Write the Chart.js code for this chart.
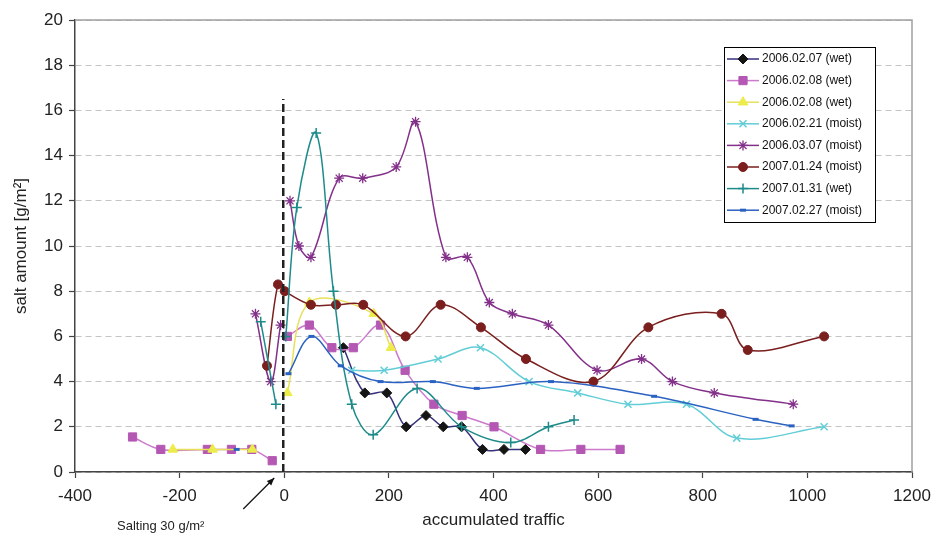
<!DOCTYPE html>
<html>
<head>
<meta charset="utf-8">
<title>Salt amount vs accumulated traffic</title>
<script src="https://cdn.jsdelivr.net/npm/chart.js@4/dist/chart.umd.min.js"></script>
<style>
  html, body { margin: 0; padding: 0; background: #fff; }
  canvas { display: block; }
</style>
</head>
<body>
<canvas id="saltChart" width="933" height="536"></canvas>
<script>
// Salt amount on the road vs accumulated traffic after salting
// values; null = break in the line at the salting moment

const seriesLabels = [
    '2006.02.07 (wet)', '2006.02.08 (wet)', '2006.02.08 (wet)', '2006.02.21 (moist)',
    '2006.03.07 (moist)', '2007.01.24 (moist)', '2007.01.31 (wet)', '2007.02.27 (moist)'
];

const traffic_060207 = [113, 154, 196, 233, 271, 304, 339, 379, 420, 461];
const salt_060207    = [5.5, 3.5, 3.5, 2.0, 2.5, 2.0, 2.0, 1.0, 1.0, 1.0];

const traffic_060208a = [-290, -236, -147, -101, -62, -23, 0, 6, 48, 91, 132, 184, 231, 286, 340, 401, 490, 567, 642];
const salt_060208a    = [1.55, 1.0, 1.0, 1.0, 1.0, 0.5, null, 6.0, 6.5, 5.5, 5.5, 6.5, 4.5, 3.0, 2.5, 2.0, 1.0, 1.0, 1.0];

const traffic_060208b = [-213, -137, -61, 0, 6, 48, 171, 204];
const salt_060208b    = [1.0, 1.0, 1.0, null, 3.5, 7.5, 7.0, 5.5];

const traffic_060221 = [129, 191, 294, 375, 468, 561, 657, 769, 865, 1032];
const salt_060221    = [4.5, 4.5, 5.0, 5.5, 4.0, 3.5, 3.0, 3.0, 1.5, 2.0];

const traffic_060307 = [-55, -26, -7, 0, 11, 28, 51, 105, 150, 214, 251, 309, 350, 392, 436, 505, 598, 683, 742, 822, 973];
const salt_060307    = [7.0, 4.0, 6.5, null, 12.0, 10.0, 9.5, 13.0, 13.0, 13.5, 15.5, 9.5, 9.5, 7.5, 7.0, 6.5, 4.5, 5.0, 4.0, 3.5, 3.0];

const traffic_070124 = [-33, -12, 1, 51, 99, 151, 232, 299, 376, 462, 591, 696, 836, 886, 1032];
const salt_070124    = [4.7, 8.3, 8.0, 7.4, 7.4, 7.4, 6.0, 7.4, 6.4, 5.0, 4.0, 6.4, 7.0, 5.4, 6.0];

const traffic_070131 = [-45, -16, 0, 3, 24, 61, 94, 129, 170, 254, 339, 433, 505, 554];
const salt_070131    = [6.65, 3.0, null, 6.0, 11.7, 15.0, 8.0, 3.0, 1.65, 3.7, 2.0, 1.3, 2.0, 2.3];

const traffic_070227 = [-91, 0, 8, 52, 108, 184, 284, 368, 510, 707, 901, 970];
const salt_070227    = [1.0, null, 4.35, 6.0, 4.7, 4.0, 4.0, 3.7, 4.0, 3.35, 2.33, 2.04];

const xTicks = [-400, -200, 0, 200, 400, 600, 800, 1000, 1200];
const yTicks = [0, 2, 4, 6, 8, 10, 12, 14, 16, 18, 20];

const saltingTraffic = 0;     // moment of salting
const saltingLineTop = 16.5;  // height of the dashed marker line

const trafficSets = [traffic_060207, traffic_060208a, traffic_060208b, traffic_060221,
                     traffic_060307, traffic_070124, traffic_070131, traffic_070227];
const saltSets = [salt_060207, salt_060208a, salt_060208b, salt_060221,
                  salt_060307, salt_070124, salt_070131, salt_070227];

// look of each series (Excel-like markers)
const looks = [
    { line: '#35307a', marker: '#151515', shape: 'rectRot',  r: 5,   bw: 1 },
    { line: '#cc7acc', marker: '#b458b4', shape: 'rect',     r: 5.8, bw: 1 },
    { line: '#e8e05a', marker: '#ecec4a', shape: 'triangle', r: 5.5, bw: 1 },
    { line: '#62cdd6', marker: '#62cdd6', shape: 'crossRot', r: 5,   bw: 1.5 },
    { line: '#83308a', marker: '#83308a', shape: 'star',     r: 5,   bw: 1.3 },
    { line: '#7a1e1e', marker: '#7a1e1e', shape: 'circle',   r: 4.5, bw: 1 },
    { line: '#1e8b8b', marker: '#1e8b8b', shape: 'cross',    r: 5,   bw: 1.5 },
    { line: '#2a62c2', marker: '#2a62c2', shape: 'line',     r: 3,   bw: 3 }
];

const FONT = "'Liberation Sans', Arial, sans-serif";

const datasets = seriesLabels.map((label, i) => ({
    label: label,
    data: trafficSets[i].map((x, k) => ({ x: x, y: saltSets[i][k] })),
    borderColor: looks[i].line,
    backgroundColor: looks[i].marker,
    borderWidth: 1.5,
    tension: 0.35,
    spanGaps: false,
    pointStyle: looks[i].shape,
    pointRadius: looks[i].r,
    pointBorderWidth: looks[i].bw,
    pointBackgroundColor: looks[i].marker,
    pointBorderColor: looks[i].marker,
    order: seriesLabels.length - i   // later series on top, like the original
}));

// gray frame on top/right of plot area
const plotFrame = {
    id: 'plotFrame',
    beforeDatasetsDraw(chart) {
        const { ctx, chartArea: a } = chart;
        ctx.save();
        ctx.strokeStyle = '#a0a0a0';
        ctx.lineWidth = 1.5;
        ctx.beginPath();
        ctx.moveTo(a.left, a.top);
        ctx.lineTo(a.right, a.top);
        ctx.lineTo(a.right, a.bottom);
        ctx.stroke();
        ctx.restore();
    }
};

// dashed salting line, arrow and note
const saltingMark = {
    id: 'saltingMark',
    afterDatasetsDraw(chart) {
        const { ctx } = chart;
        const xs = chart.scales.x, ys = chart.scales.y;
        const px = xs.getPixelForValue(saltingTraffic) - 1;
        ctx.save();
        ctx.strokeStyle = '#222';
        ctx.lineWidth = 2.5;
        ctx.setLineDash([8, 4]);
        ctx.beginPath();
        ctx.moveTo(px, ys.getPixelForValue(0));
        ctx.lineTo(px, ys.getPixelForValue(saltingLineTop));
        ctx.stroke();
        ctx.setLineDash([]);

        // arrow pointing at the salting moment
        const base = ys.getPixelForValue(0);
        const tipX = px - 9, tipY = base + 6;
        const tailX = px - 40, tailY = base + 37;
        ctx.lineWidth = 1.3;
        ctx.strokeStyle = '#111';
        ctx.beginPath();
        ctx.moveTo(tailX, tailY);
        ctx.lineTo(tipX, tipY);
        ctx.stroke();
        const ang = Math.atan2(tipY - tailY, tipX - tailX);
        ctx.fillStyle = '#111';
        ctx.beginPath();
        ctx.moveTo(tipX, tipY);
        ctx.lineTo(tipX - 8 * Math.cos(ang - 0.4), tipY - 8 * Math.sin(ang - 0.4));
        ctx.lineTo(tipX - 8 * Math.cos(ang + 0.4), tipY - 8 * Math.sin(ang + 0.4));
        ctx.closePath();
        ctx.fill();

        ctx.font = '13px ' + FONT;
        ctx.fillStyle = '#222';
        ctx.textBaseline = 'alphabetic';
        ctx.fillText('Salting 30 g/m²', 117, base + 58);
        ctx.restore();
    }
};

// boxed legend inside the plot, like the original
const boxLegend = {
    id: 'boxLegend',
    afterDraw(chart) {
        const { ctx } = chart;
        const left = 724, top = 47, w = 151, h = 175, rowH = 21.6;
        ctx.save();
        ctx.fillStyle = '#fff';
        ctx.fillRect(left, top, w, h);
        ctx.strokeStyle = '#000';
        ctx.lineWidth = 1;
        ctx.strokeRect(left + 0.5, top + 0.5, w, h);
        ctx.font = '12px ' + FONT;
        ctx.textBaseline = 'middle';
        chart.data.datasets.forEach((ds, i) => {
            const y = top + 12 + i * rowH;
            ctx.strokeStyle = ds.borderColor;
            ctx.lineWidth = 1.5;
            ctx.beginPath();
            ctx.moveTo(left + 3, y);
            ctx.lineTo(left + 35, y);
            ctx.stroke();
            ctx.fillStyle = ds.pointBackgroundColor;
            ctx.strokeStyle = ds.pointBorderColor;
            ctx.lineWidth = ds.pointBorderWidth;
            Chart.helpers.drawPoint(ctx, {
                pointStyle: ds.pointStyle,
                radius: ds.pointRadius,
                borderWidth: ds.pointBorderWidth,
                rotation: 0
            }, left + 19, y);
            ctx.fillStyle = '#111';
            ctx.fillText(ds.label, left + 38, y);
        });
        ctx.restore();
    }
};

new Chart(document.getElementById('saltChart'), {
    type: 'line',
    data: { datasets: datasets },
    plugins: [plotFrame, saltingMark, boxLegend],
    options: {
        responsive: false,
        animation: false,
        devicePixelRatio: 1,
        layout: { padding: { left: 0, top: 20, right: 21, bottom: 0 } },
        plugins: {
            legend: { display: false },
            tooltip: { enabled: false }
        },
        scales: {
            x: {
                type: 'linear',
                min: xTicks[0],
                max: xTicks[xTicks.length - 1],
                afterBuildTicks: (s) => { s.ticks = xTicks.map(v => ({ value: v })); },
                afterFit: (s) => { s.height = 64; s.paddingLeft = 0; s.paddingRight = 0; },
                grid: { drawOnChartArea: false, drawTicks: true, tickLength: 6, tickColor: '#444', tickWidth: 1.2 },
                border: { color: '#444', width: 1.5 },
                ticks: {
                    color: '#222', padding: 8, maxRotation: 0,
                    font: { family: FONT, size: 17 },
                    callback: (v) => String(v)
                },
                title: {
                    display: true,
                    text: 'accumulated traffic',
                    color: '#222',
                    font: { family: FONT, size: 17 },
                    padding: { top: 0, bottom: 5 }
                }
            },
            y: {
                min: yTicks[0],
                max: yTicks[yTicks.length - 1],
                afterBuildTicks: (s) => { s.ticks = yTicks.map(v => ({ value: v })); },
                afterFit: (s) => { s.width = 75; s.paddingTop = 0; s.paddingBottom = 0; },
                grid: { color: '#c4c4c4', lineWidth: 1, tickLength: 6, tickColor: '#444', tickWidth: 1.2 },
                border: { color: '#444', width: 1.5, dash: [6, 4] },
                ticks: {
                    color: '#222', padding: 6,
                    font: { family: FONT, size: 17 },
                    callback: (v) => String(v)
                },
                title: {
                    display: true,
                    text: 'salt amount [g/m²]',
                    color: '#222',
                    font: { family: FONT, size: 17 },
                    padding: { top: 11, bottom: 0 }
                }
            }
        }
    }
});
</script>
</body>
</html>
